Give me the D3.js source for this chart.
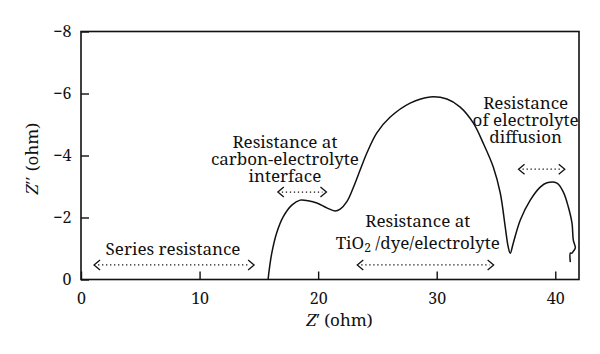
<!DOCTYPE html>
<html>
<head>
<meta charset="utf-8">
<script src="https://cdn.jsdelivr.net/npm/d3@7"></script>
<style>
  body { margin: 0; background: #fff; }
</style>
</head>
<body>
<div class="content"></div>
<script>
// Nyquist curve: Z' (ohm) and Z'' (ohm)
var zReal = [15.78, 15.87, 16.09, 16.5, 17.05, 17.78, 18.48, 19.16, 19.89, 20.73, 21.43, 21.86,
    22.42, 22.95, 23.54, 24.11, 24.95, 26.08, 27.76, 29.45, 30.86, 31.98, 33.08, 33.92, 34.77,
    35.36, 35.78, 36.03, 36.2, 36.46, 37.05, 37.89, 38.73, 39.3, 40.14, 40.68, 41.1, 41.41,
    41.52, 41.69, 41.5, 41.41, 41.27, 41.27];
var zImag = [0, -0.3, -0.85, -1.5, -2.02, -2.4, -2.56, -2.54, -2.47, -2.31, -2.21, -2.27,
    -2.51, -2.95, -3.53, -4.08, -4.73, -5.24, -5.69, -5.89, -5.82, -5.56, -5.05, -4.4, -3.63,
    -2.79, -1.69, -1.05, -0.85, -1.18, -1.92, -2.56, -2.98, -3.12, -3.11, -2.82, -2.34, -1.82,
    -1.27, -1.02, -0.9, -0.85, -0.85, -0.56];

var xTicks = [0, 10, 20, 30, 40];
var yTicks = [0, -2, -4, -6, -8];

// annotation texts and their double arrows (from, to, level in ohm)
var noteLines = [
    ["Series resistance"],
    ["Resistance at", "carbon-electrolyte", "interface"],
    ["Resistance at", "TiO|2| /dye/electrolyte"],
    ["Resistance", "of electrolyte", "diffusion"]
];
var arrowFrom = [1.1, 16.6, 23.3, 36.9];
var arrowTo = [14.6, 20.7, 34.8, 40.8];
var arrowAt = [-0.47, -2.82, -0.47, -3.56];

var width = 600, height = 354;
var margin = {top: 31.5, right: 21, bottom: 74.5, left: 81};
var font = "'Noto Serif'";

var svg = d3.select('.content').append('svg')
    .attr('width', width)
    .attr('height', height)
    .style('font-family', font);

var x = d3.scaleLinear().domain([0, 42]).range([margin.left, width - margin.right]);
var y = d3.scaleLinear().domain([0, -8]).range([height - margin.bottom, margin.top]);

// frame
svg.append('rect')
    .attr('x', x(0)).attr('y', y(-8))
    .attr('width', x(42) - x(0)).attr('height', y(0) - y(-8))
    .style('fill', 'none').style('stroke', '#111').style('stroke-width', 1.6);

var fmt = function(d) { return d < 0 ? '\u2212' + Math.abs(d) : d; };

var xAxis = svg.append('g')
    .attr('transform', 'translate(0,' + y(0) + ')')
    .call(d3.axisBottom(x).tickValues(xTicks).tickSizeInner(-8).tickSizeOuter(0).tickPadding(12));
var yAxis = svg.append('g')
    .attr('transform', 'translate(' + x(0) + ',0)')
    .call(d3.axisLeft(y).tickValues(yTicks).tickFormat(fmt).tickSizeInner(-8).tickSizeOuter(0).tickPadding(8));

[xAxis, yAxis].forEach(function(a) {
    a.attr('font-family', null).attr('font-size', null);
    a.select('.domain').remove();
    a.selectAll('line').style('stroke', '#111').style('stroke-width', 1.4);
    a.selectAll('text').style('font-size', '16px').style('fill', '#111').style('font-family', font);
});
yAxis.selectAll('text').attr('dx', '-0.6em').attr('x', 0);
xAxis.selectAll('text').attr('y', 13);

// curve
var pts = zReal.map(function(d, i) { return [d, zImag[i]]; });
svg.append('path')
    .attr('d', d3.line()
        .curve(d3.curveCatmullRom.alpha(0.5))
        .x(function(d) { return x(d[0]); })
        .y(function(d) { return y(d[1]); })(pts))
    .style('fill', 'none')
    .style('stroke', '#111')
    .style('stroke-width', 1.5)
    .style('stroke-linejoin', 'round');

// axis titles
var xt = svg.append('text')
    .attr('x', x(21.8)).attr('y', 326)
    .attr('text-anchor', 'middle')
    .style('font-size', '17px').style('fill', '#111');
xt.append('tspan').style('font-style', 'italic').text('Z');
xt.append('tspan').text('\u2032 (ohm)');

var yt = svg.append('text')
    .attr('transform', 'translate(38,' + y(-3.9) + ') rotate(-90)')
    .attr('text-anchor', 'middle')
    .style('font-size', '17px').style('fill', '#111');
yt.append('tspan').style('font-style', 'italic').text('Z');
yt.append('tspan').style('letter-spacing', '1px').text('\u2032\u2032');
yt.append('tspan').text(' (ohm)');

// annotations
var noteX = [7.76, 17.2, 28.4, 37.5];
var noteTop = [-0.79, -4.24, -1.7, -5.5];
var lineGap = [0, 16.8, 22.5, 17];

noteLines.forEach(function(lines, k) {
    lines.forEach(function(s, j) {
        var t = svg.append('text')
            .attr('x', x(noteX[k]))
            .attr('y', y(noteTop[k]) + j * lineGap[k])
            .attr('text-anchor', 'middle')
            .style('font-size', '17px').style('fill', '#111');
        s.split('|').forEach(function(part, p) {
            var ts = t.append('tspan').text(part);
            if (p === 1) ts.attr('baseline-shift', '-25%').style('font-size', '12px');
        });
    });

    var ay = y(arrowAt[k]), ax1 = x(arrowFrom[k]), ax2 = x(arrowTo[k]);
    svg.append('line')
        .attr('x1', ax1 + 4).attr('x2', ax2 - 4)
        .attr('y1', ay).attr('y2', ay)
        .style('stroke', '#111').style('stroke-width', 1.3)
        .style('stroke-dasharray', '1.3,2.7');
    svg.append('path')
        .attr('d', 'M' + (ax1 + 6) + ',' + (ay - 5) + 'L' + ax1 + ',' + ay + 'L' + (ax1 + 6) + ',' + (ay + 5) +
              'M' + (ax2 - 6) + ',' + (ay - 5) + 'L' + ax2 + ',' + ay + 'L' + (ax2 - 6) + ',' + (ay + 5))
        .style('fill', 'none').style('stroke', '#111').style('stroke-width', 1.3);
});
</script>
</body>
</html>
